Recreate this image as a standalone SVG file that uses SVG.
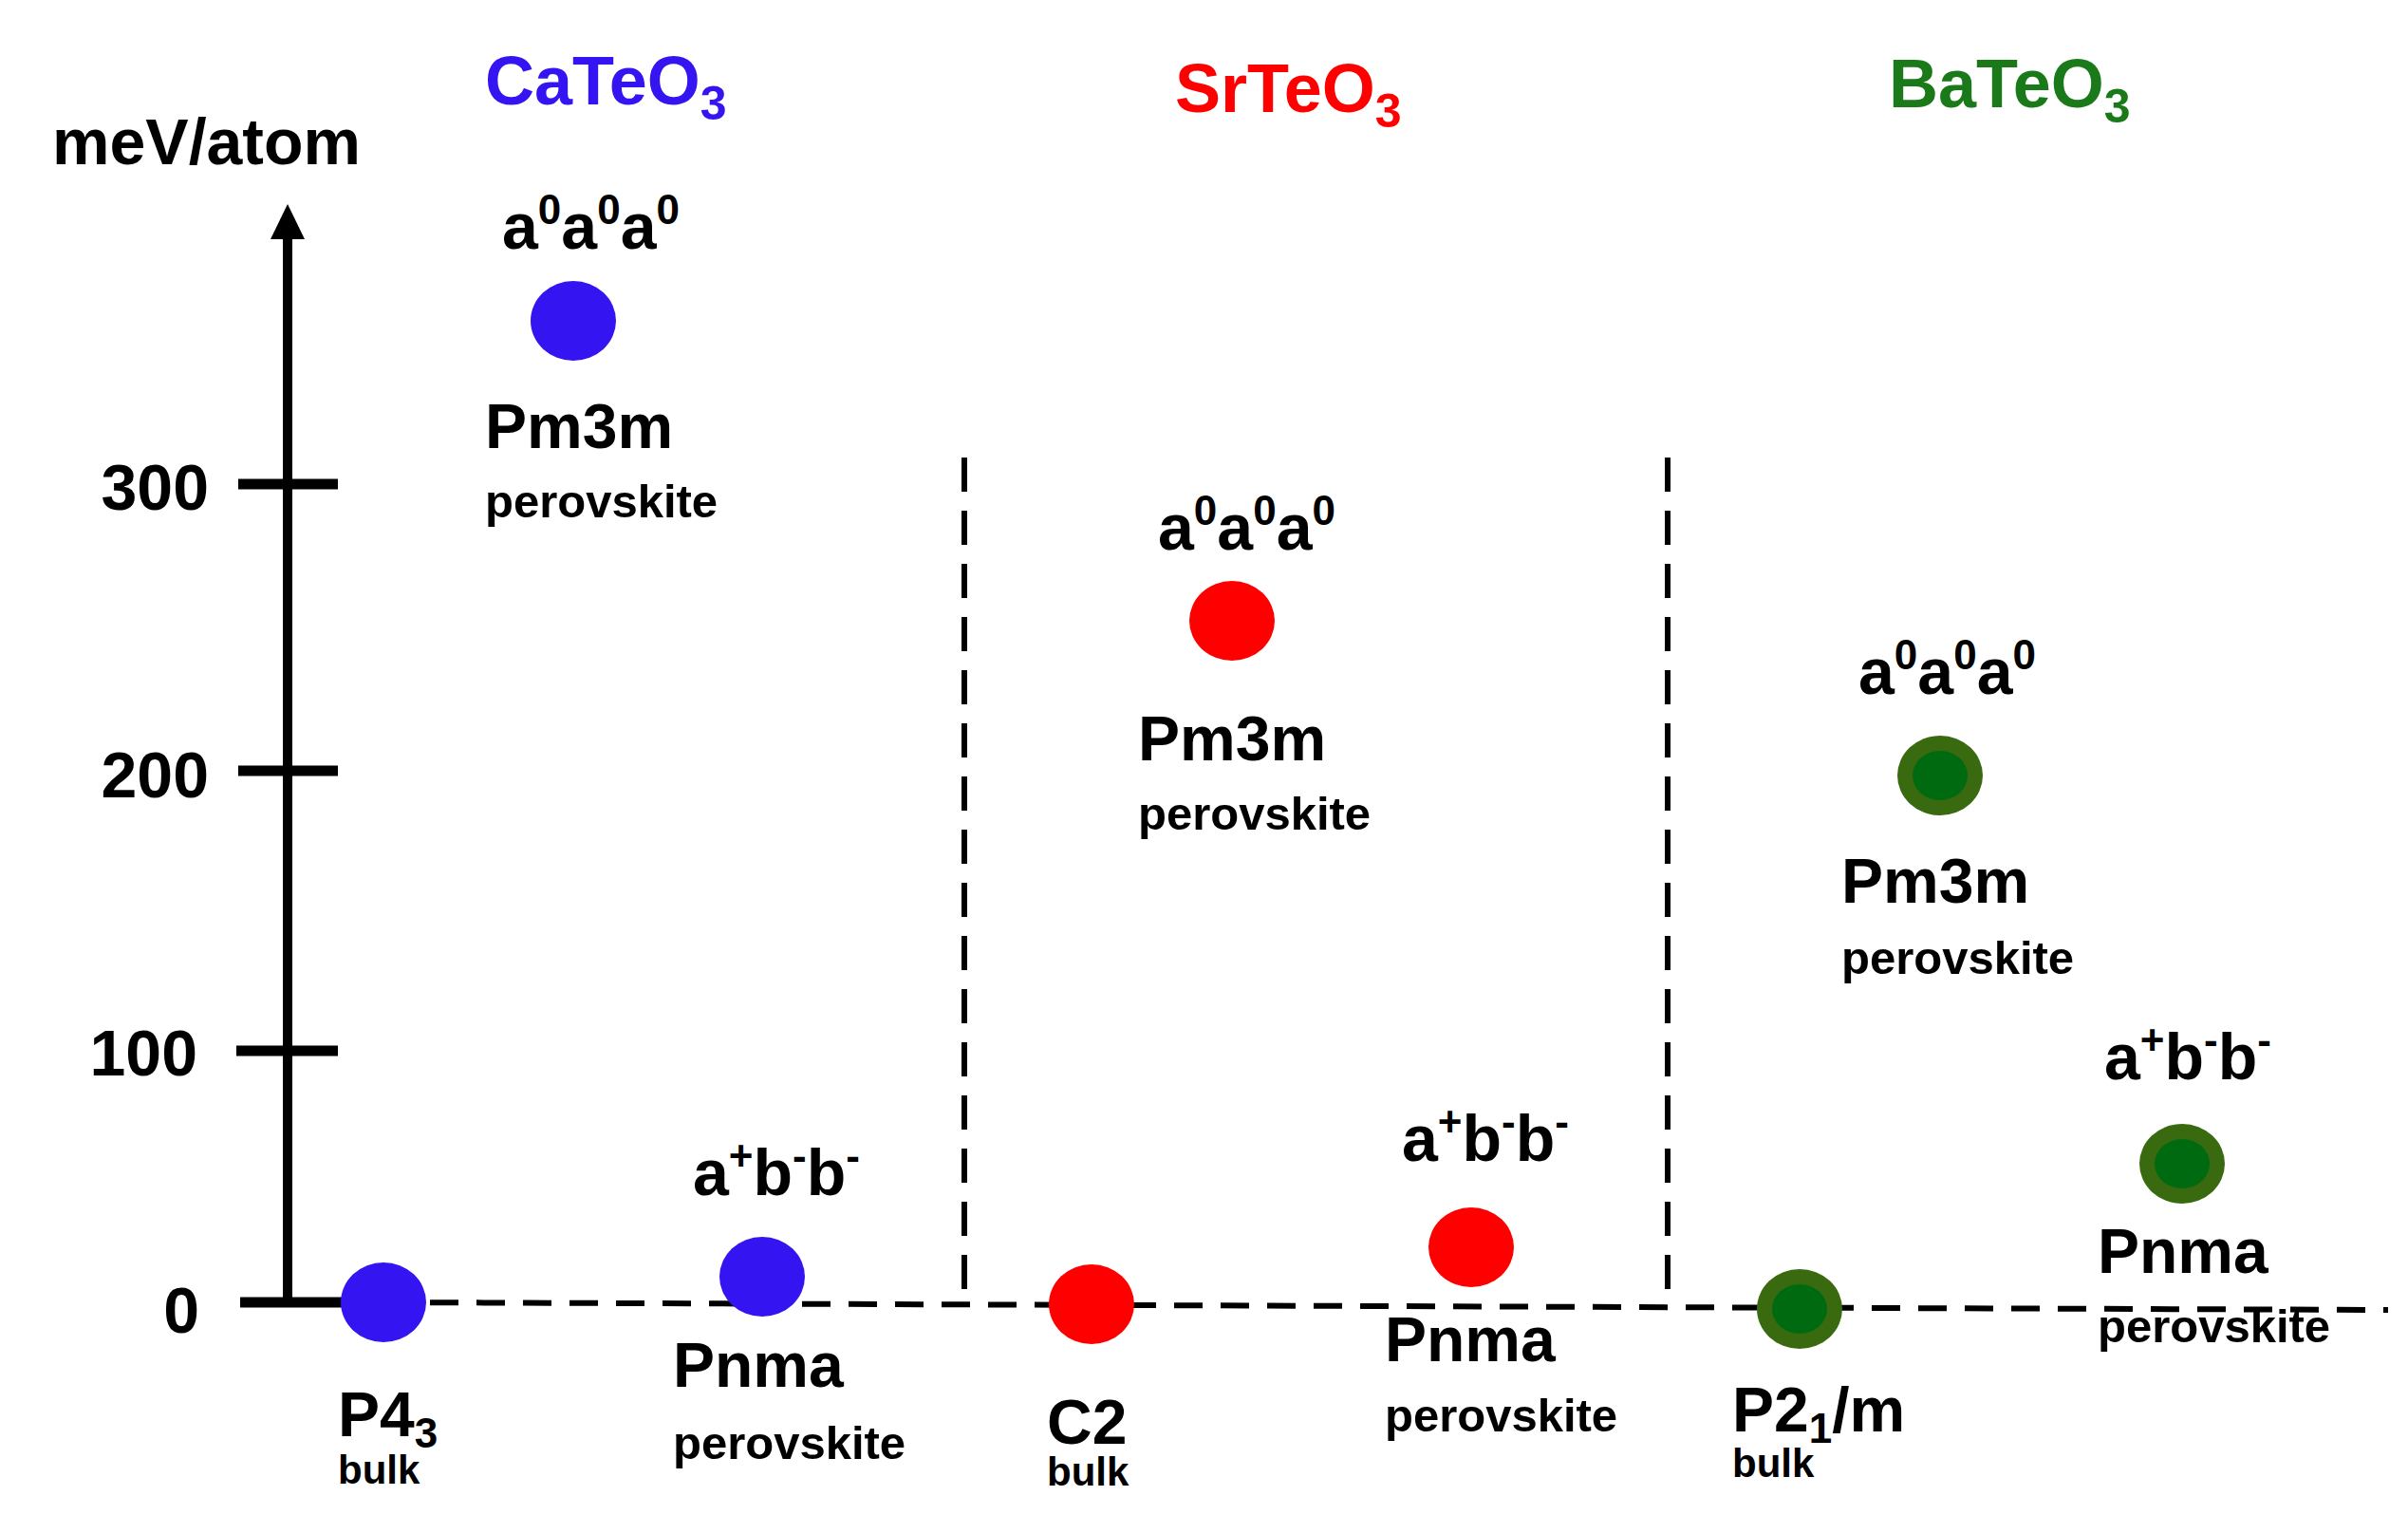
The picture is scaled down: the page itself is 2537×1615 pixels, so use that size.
<svg xmlns="http://www.w3.org/2000/svg" width="2537" height="1615" viewBox="0 0 2537 1615">
<style>
text{font-family:"Liberation Sans",Arial,sans-serif;font-weight:bold;fill:#000}
.t{font-size:72px}.lbl{font-size:68px}.sg{font-size:66px}.pv{font-size:49px}.bk{font-size:42px}.tk{font-size:68px}
.blue{fill:#3414f0}.red{fill:#ff0000}.green{fill:#1a7a1a}
.dash{stroke:#000;stroke-width:6;stroke-dasharray:30 19;fill:none}
.vdash{stroke:#000;stroke-width:6;stroke-dasharray:36 20;fill:none}
.gout{fill:#3a6a10}.gin{fill:#006a10}
</style>
<rect width="2537" height="1615" fill="#fff"/>
<g id="axis">
<line x1="303" y1="1372" x2="303" y2="245" stroke="#000" stroke-width="10"/>
<polygon points="303,215 285,252 321,252" fill="#000"/>
<g stroke="#000" stroke-width="11">
<line x1="251" y1="510" x2="356" y2="510"/>
<line x1="251" y1="812" x2="356" y2="812"/>
<line x1="249" y1="1107" x2="356" y2="1107"/>
<line x1="253" y1="1372" x2="404" y2="1372"/>
</g>
<text class="tk" x="220" y="537" text-anchor="end">300</text>
<text class="tk" x="220" y="840" text-anchor="end">200</text>
<text class="tk" x="208" y="1133" text-anchor="end">100</text>
<text class="tk" x="210" y="1404" text-anchor="end">0</text>
<text class="tk" x="55" y="173">meV/atom</text>
</g>
<g id="connectors">
<path class="dash" d="M404,1372 L2516,1380"/>
<path class="vdash" d="M1016,482 L1016,1372"/>
<path class="vdash" d="M1757,482 L1757,1377"/>
</g>
<g id="titles">
<text class="t blue" x="511" y="110">CaTeO<tspan font-size="50" dy="16">3</tspan></text>
<text class="t red" x="1238" y="118">SrTeO<tspan font-size="50" dy="16">3</tspan></text>
<text class="t green" x="1990" y="113">BaTeO<tspan font-size="50" dy="16">3</tspan></text>
</g>
<g id="ca-pm3m">
<ellipse cx="604" cy="338" rx="45" ry="42" class="blue"/>
<text class="lbl" x="529" y="262">a<tspan font-size="44" dy="-26">0</tspan><tspan dy="26">a</tspan><tspan font-size="44" dy="-26">0</tspan><tspan dy="26">a</tspan><tspan font-size="44" dy="-26">0</tspan></text>
<text class="sg" x="511" y="472">Pm3m</text>
<text class="pv" x="511" y="545">perovskite</text>
</g>
<g id="ca-p43">
<ellipse cx="404" cy="1372" rx="45" ry="42" class="blue"/>
<text class="sg" x="356" y="1513">P4<tspan font-size="44" dy="12">3</tspan></text>
<text class="bk" x="356" y="1563">bulk</text>
</g>
<g id="ca-pnma">
<ellipse cx="803" cy="1345" rx="45" ry="42" class="blue"/>
<text class="lbl" x="730" y="1259">a<tspan font-size="44" dy="-26">+</tspan><tspan dy="26">b</tspan><tspan font-size="44" dy="-26">-</tspan><tspan dy="26">b</tspan><tspan font-size="44" dy="-26">-</tspan></text>
<text class="sg" x="709" y="1461">Pnma</text>
<text class="pv" x="709" y="1537">perovskite</text>
</g>
<g id="sr-pm3m">
<ellipse cx="1298" cy="654" rx="45" ry="42" class="red"/>
<text class="lbl" x="1220" y="579">a<tspan font-size="44" dy="-26">0</tspan><tspan dy="26">a</tspan><tspan font-size="44" dy="-26">0</tspan><tspan dy="26">a</tspan><tspan font-size="44" dy="-26">0</tspan></text>
<text class="sg" x="1199" y="801">Pm3m</text>
<text class="pv" x="1199" y="874">perovskite</text>
</g>
<g id="sr-c2">
<ellipse cx="1150" cy="1374" rx="45" ry="42" class="red"/>
<text class="sg" x="1103" y="1521">C2</text>
<text class="bk" x="1103" y="1565">bulk</text>
</g>
<g id="sr-pnma">
<ellipse cx="1550" cy="1314" rx="45" ry="42" class="red"/>
<text class="lbl" x="1477" y="1223">a<tspan font-size="44" dy="-26">+</tspan><tspan dy="26">b</tspan><tspan font-size="44" dy="-26">-</tspan><tspan dy="26">b</tspan><tspan font-size="44" dy="-26">-</tspan></text>
<text class="sg" x="1459" y="1434">Pnma</text>
<text class="pv" x="1459" y="1508">perovskite</text>
</g>
<g id="ba-pm3m">
<ellipse cx="2044" cy="817" rx="45" ry="42" class="gout"/>
<ellipse cx="2044" cy="817" rx="29" ry="26" class="gin"/>
<text class="lbl" x="1958" y="731">a<tspan font-size="44" dy="-26">0</tspan><tspan dy="26">a</tspan><tspan font-size="44" dy="-26">0</tspan><tspan dy="26">a</tspan><tspan font-size="44" dy="-26">0</tspan></text>
<text class="sg" x="1940" y="951">Pm3m</text>
<text class="pv" x="1940" y="1026">perovskite</text>
</g>
<g id="ba-p21m">
<ellipse cx="1896" cy="1379" rx="45" ry="42" class="gout"/>
<ellipse cx="1896" cy="1379" rx="29" ry="26" class="gin"/>
<text class="sg" x="1825" y="1508">P2<tspan font-size="44" dy="12">1</tspan><tspan dy="-12">/m</tspan></text>
<text class="bk" x="1825" y="1556">bulk</text>
</g>
<g id="ba-pnma">
<ellipse cx="2299" cy="1226" rx="45" ry="42" class="gout"/>
<ellipse cx="2299" cy="1226" rx="29" ry="26" class="gin"/>
<text class="lbl" x="2217" y="1137">a<tspan font-size="44" dy="-26">+</tspan><tspan dy="26">b</tspan><tspan font-size="44" dy="-26">-</tspan><tspan dy="26">b</tspan><tspan font-size="44" dy="-26">-</tspan></text>
<text class="sg" x="2210" y="1341">Pnma</text>
<text class="pv" x="2210" y="1414">perovskite</text>
</g>
</svg>
